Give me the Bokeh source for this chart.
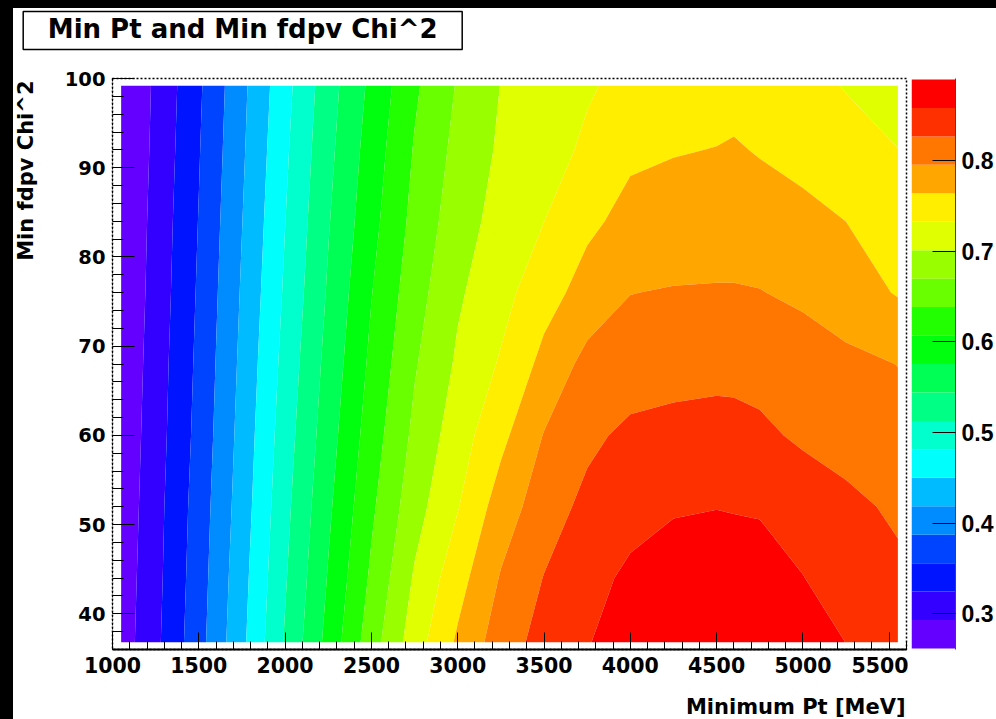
import colorsys
import numpy as np
from bokeh.plotting import figure
from bokeh.models import Range1d, SingleIntervalTicker, FixedTicker, Label, BoxAnnotation
from bokeh.layouts import row, column
from bokeh.embed import file_html
from bokeh.resources import INLINE

# ---------------- data ----------------
title_text = "Min Pt and Min fdpv Chi^2"
x_label = "Minimum Pt [MeV]"
y_label = "Min fdpv Chi^2"

# grid of Minimum Pt (x) and Min fdpv Chi^2 (y) values
min_pt = [1050, 1250, 1500, 1750, 2000, 2250, 2500, 2750, 3000, 3250,
          3500, 3750, 4000, 4250, 4500, 4600, 4750, 5000, 5250, 5550]
min_chi2 = [36.8, 44, 52, 60, 68, 76, 84, 92, 99.2]

# z values, one list per Chi^2 row (bottom to top)
z_chi2_36 = [0.277, 0.3175, 0.376, 0.443, 0.516, 0.586, 0.656, 0.718, 0.769, 0.812,
             0.838, 0.857, 0.870, 0.880, 0.885, 0.884, 0.881, 0.872, 0.858, 0.842]
z_chi2_44 = [0.275, 0.315, 0.373, 0.439, 0.510, 0.578, 0.644, 0.705, 0.752, 0.798,
             0.828, 0.847, 0.865, 0.880, 0.889, 0.887, 0.878, 0.859, 0.845, 0.833]
z_chi2_52 = [0.272, 0.313, 0.370, 0.434, 0.504, 0.570, 0.633, 0.689, 0.731, 0.779,
             0.812, 0.835, 0.846, 0.854, 0.857, 0.855, 0.854, 0.845, 0.834, 0.822]
z_chi2_60 = [0.270, 0.310, 0.366, 0.430, 0.498, 0.562, 0.623, 0.677, 0.718, 0.756,
             0.797, 0.820, 0.834, 0.837, 0.838, 0.837, 0.833, 0.822, 0.815, 0.806]
z_chi2_68 = [0.267, 0.308, 0.363, 0.426, 0.492, 0.555, 0.614, 0.667, 0.706, 0.736,
             0.773, 0.805, 0.810, 0.815, 0.818, 0.818, 0.816, 0.810, 0.803, 0.795]
z_chi2_76 = [0.265, 0.305, 0.360, 0.422, 0.486, 0.548, 0.606, 0.657, 0.697, 0.722,
             0.752, 0.776, 0.795, 0.7975, 0.798, 0.798, 0.7965, 0.790, 0.778, 0.762]
z_chi2_84 = [0.263, 0.303, 0.357, 0.418, 0.481, 0.542, 0.597, 0.648, 0.687, 0.713,
             0.7325, 0.758, 0.773, 0.777, 0.780, 0.780, 0.779, 0.772, 0.764, 0.749]
z_chi2_92 = [0.2625, 0.300, 0.354, 0.414, 0.476, 0.536, 0.590, 0.641, 0.679, 0.706,
             0.7225, 0.737, 0.759, 0.7625, 0.7648, 0.767, 0.762, 0.755, 0.745, 0.733]
z_chi2_99 = [0.262, 0.298, 0.351, 0.411, 0.471, 0.531, 0.583, 0.6335, 0.6725, 0.702,
             0.716, 0.730, 0.740, 0.747, 0.752, 0.753, 0.752, 0.742, 0.731, 0.722]

z_min, z_max = 0.2617, 0.8897
n_contours = 20
colorbar_ticks = [0.3, 0.4, 0.5, 0.6, 0.7, 0.8]

# ---------------- styling helpers ----------------
FONT = "DejaVu Sans"
CB_FONT = "Liberation Sans"
Z = np.array([z_chi2_36, z_chi2_44, z_chi2_52, z_chi2_60, z_chi2_68,
              z_chi2_76, z_chi2_84, z_chi2_92, z_chi2_99])
levels = list(np.linspace(z_min, z_max, n_contours + 1))


def root_color(k):
    # ROOT "pretty palette" (50 colours, violet -> red) sampled for 20 contours
    idx = int((k + 0.99) * 50 / n_contours)
    hue = max(280.0 - (idx + 1) * 5.6, 0.0)
    r, g, b = colorsys.hls_to_rgb(hue / 360.0, 0.5, 1.0)
    return "#%02x%02x%02x" % (round(r * 255), round(g * 255), round(b * 255))


colors = [root_color(k) for k in range(n_contours)]

# shared borders (plots in one row get their frames aligned)
ROW_TOP, ROW_BOTTOM = 20, 40          # main row: frame from y=78 to y=649 on the page


def blank_fig(w, h, left=0, right=0, top=0, bottom=0, xr=(0, 1), yr=(0, 1)):
    f = figure(width=w, height=h, x_range=Range1d(*xr), y_range=Range1d(*yr),
               output_backend="svg", toolbar_location=None, title=None,
               x_axis_location=None, y_axis_location=None,
               min_border_left=left, min_border_right=right, min_border_top=top,
               min_border_bottom=bottom)
    f.grid.visible = False
    f.outline_line_color = None
    return f


# ---------------- title box (pixel coordinates of this strip) ----------------
tfig = blank_fig(983, 50, xr=(0, 983), yr=(0, 50))
tfig.add_layout(BoxAnnotation(left=9.7, right=448.7, bottom=9, top=47,
                              fill_color="white", fill_alpha=1.0,
                              line_color="black", line_width=1.5, line_alpha=1.0))
tfig.add_layout(Label(x=229.2, y=29.9, text=title_text, text_align="center",
                      text_baseline="middle", text_font=FONT, text_font_style="bold",
                      text_font_size="26px", text_color="black"))

# ---------------- y axis title (vertical, top aligned) ----------------
yfig = blank_fig(32, 631, top=ROW_TOP, bottom=ROW_BOTTOM)
yfig.add_layout(Label(x=0.39, y=0.9965, text=y_label, angle=np.pi / 2,
                      text_align="right", text_baseline="middle", text_font=FONT,
                      text_font_style="bold", text_font_size="21px",
                      text_color="black"))

# ---------------- main contour plot ----------------
p = figure(width=863, height=631, x_range=Range1d(1000, 5600), y_range=Range1d(36, 100),
           output_backend="svg", toolbar_location=None, title=None,
           min_border_left=67, min_border_right=2, min_border_top=ROW_TOP,
           min_border_bottom=ROW_BOTTOM)
p.grid.visible = False
p.outline_line_color = "black"
p.outline_line_width = 1.5
p.outline_line_dash = "2 2"

p.contour(x=min_pt, y=min_chi2, z=Z, levels=levels, fill_color=colors,
          line_color=None)

p.xaxis.ticker = SingleIntervalTicker(interval=500, num_minor_ticks=5)
p.yaxis.ticker = SingleIntervalTicker(interval=10, num_minor_ticks=5)
for ax, maj, mnr, fs in ((p.xaxis, 17, 8, "20.5px"), (p.yaxis, 22, 11, "19.5px")):
    ax.major_tick_in = maj
    ax.major_tick_out = 0
    ax.minor_tick_in = mnr
    ax.minor_tick_out = 0
    ax.major_tick_line_color = "black"
    ax.minor_tick_line_color = "black"
    ax.major_label_text_font = FONT
    ax.major_label_text_font_style = "bold"
    ax.major_label_text_font_size = fs
    ax.major_label_text_color = "black"
    ax.major_label_standoff = 7
p.xaxis.axis_line_width = 2
p.xaxis.axis_line_color = "black"
p.yaxis.axis_line_color = "black"
p.yaxis.axis_line_dash = "2 2"

# ---------------- colour bar ----------------
cb_pad = (z_max - z_min) / 569.0      # bar sits 1px inside the shared frame
cb = figure(width=88, height=631, x_range=Range1d(0, 1),
            y_range=Range1d(z_min - cb_pad, z_max + cb_pad),
            output_backend="svg", toolbar_location=None, title=None,
            x_axis_location=None, y_axis_location="right",
            min_border_left=3, min_border_right=41, min_border_top=ROW_TOP,
            min_border_bottom=ROW_BOTTOM)
cb.grid.visible = False
cb.outline_line_color = None
cb.quad(left=0, right=1, bottom=levels[:-1], top=levels[1:], fill_color=colors,
        line_color=None)
cb.yaxis.ticker = FixedTicker(ticks=colorbar_ticks)
cb.yaxis.major_tick_in = 23
cb.yaxis.major_tick_out = 0
cb.yaxis.minor_tick_line_color = None
cb.yaxis.major_tick_line_color = "black"
cb.yaxis.axis_line_color = "#444444"
cb.yaxis.major_label_standoff = 6
cb.yaxis.major_label_text_font = CB_FONT
cb.yaxis.major_label_text_font_style = "bold"
cb.yaxis.major_label_text_font_size = "23px"
cb.yaxis.major_label_text_color = "black"

# ---------------- x axis title (pixel coordinates of this strip) ----------------
xfig = blank_fig(983, 30, xr=(0, 983), yr=(0, 30))
xfig.add_layout(Label(x=892, y=13, text=x_label, text_align="right",
                      text_baseline="middle", text_font=FONT,
                      text_font_style="bold", text_font_size="21px",
                      text_color="black"))

layout = column(tfig, row(yfig, p, cb, spacing=0), xfig, spacing=0)

html = file_html(layout, INLINE, title=title_text)
html = html.replace(
    "</head>",
    "<style>html,body{margin:0!important;height:100%;overflow:hidden}"
    "html{background:#fff}"
    "body{padding:8px 0 0 13px!important;box-sizing:border-box;"
    "background:linear-gradient(#000,#000) 0 0/100% 8px no-repeat,"
    "linear-gradient(#000,#000) 0 0/13px 100% no-repeat,#fff!important}</style></head>", 1)
open("out.html", "w").write(html)
